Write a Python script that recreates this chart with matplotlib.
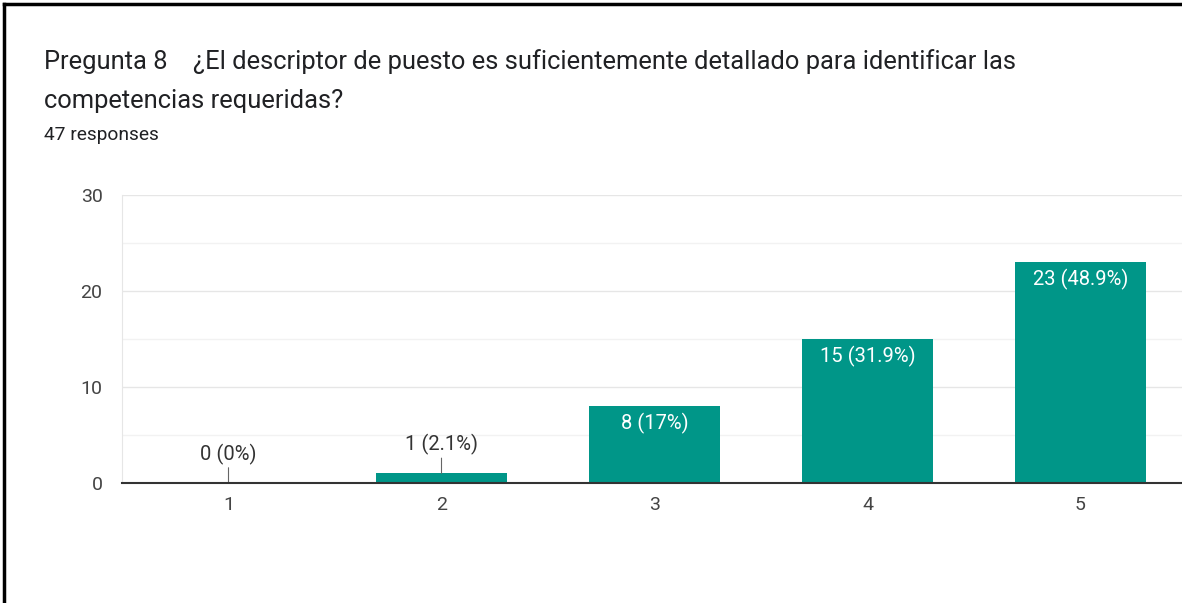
import matplotlib
matplotlib.use("Agg")
import matplotlib.pyplot as plt
from matplotlib.lines import Line2D

plt.rcParams['font.family'] = ['Roboto', 'DejaVu Sans']

categories = [1, 2, 3, 4, 5]
counts = [0, 1, 8, 15, 23]
labels = ["0 (0%)", "1 (2.1%)", "8 (17%)", "15 (31.9%)", "23 (48.9%)"]
yticks = [0, 10, 20, 30]
title_l1 = "Pregunta 8    \u00bfEl descriptor de puesto es suficientemente detallado para identificar las"
title_l2 = "competencias requeridas?"
subtitle = "47 responses"

W, H = 1182, 603
fig = plt.figure(figsize=(W / 100, H / 100), dpi=100)
fig.patch.set_facecolor('white')

ax = fig.add_axes([122 / W, 120 / H, 1065 / W, 288 / H])
teal = '#009688'
ax.bar(categories, counts, width=0.615, color=teal, zorder=3)
ax.set_xlim(0.5, 5.5)
ax.set_ylim(0, 30)
ax.set_yticks(yticks)
ax.set_yticks([5, 15, 25], minor=True)
ax.set_xticks(categories)
ax.set_xticklabels([str(c) for c in categories])
ax.grid(axis='y', which='major', color='#e6e6e6', linewidth=1, zorder=0)
ax.grid(axis='y', which='minor', color='#f2f2f2', linewidth=1, zorder=0)
ax.tick_params(axis='both', which='both', length=0, labelsize=14, colors='#444444')
ax.tick_params(axis='y', pad=14)
ax.tick_params(axis='x', pad=9)
for s in ['top', 'right']:
    ax.spines[s].set_visible(False)
ax.spines['left'].set_color('#e6e6e6')
ax.spines['bottom'].set_color('#333333')
ax.spines['bottom'].set_linewidth(1.5)
ax.spines['bottom'].set_zorder(4)

for c, v, lab in zip(categories, counts, labels):
    if v < 3:
        ax.annotate(lab, xy=(c, v), xytext=(0, 13), textcoords='offset points',
                    ha='center', va='bottom', fontsize=14.5, color='#333333',
                    arrowprops=dict(arrowstyle='-', color='#666666', lw=0.8,
                                    shrinkA=0, shrinkB=0))
    else:
        ax.annotate(lab, xy=(c, v), xytext=(0, -5), textcoords='offset points',
                    ha='center', va='top', fontsize=14.5, color='white', zorder=5)

fig.text(44 / W, 1 - 69 / H, title_l1, fontsize=18.4, color='#202124', va='baseline')
fig.text(44 / W, 1 - 108 / H, title_l2, fontsize=18.4, color='#202124', va='baseline')
fig.text(44 / W, 1 - 140 / H, subtitle, fontsize=13.8, color='#202124', va='baseline')

# frame
fig.add_artist(Line2D([4 / W, 4 / W], [0, 1 - 4 / H], transform=fig.transFigure, color='black', lw=2.5))
fig.add_artist(Line2D([4 / W, 1], [1 - 4 / H, 1 - 4 / H], transform=fig.transFigure, color='black', lw=2.5))

fig.savefig('out.png', dpi=100)
